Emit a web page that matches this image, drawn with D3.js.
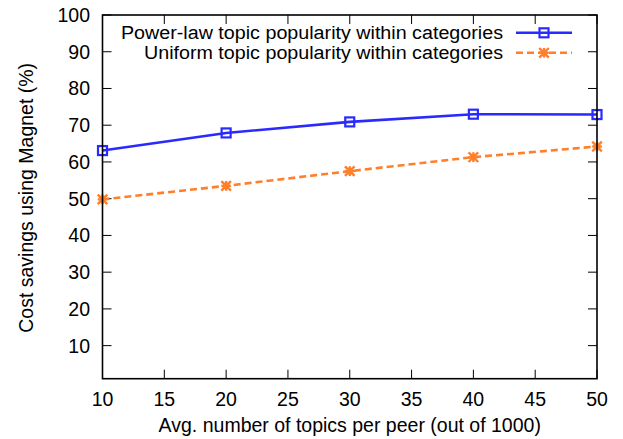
<!DOCTYPE html>
<html><head><meta charset="utf-8">
<script src="https://cdn.jsdelivr.net/npm/d3@7"></script>
<style>body{margin:0;background:#fff;}svg{display:block;font-family:"Liberation Sans",Arial,sans-serif;}</style>
</head><body>
<svg id="c" width="623" height="439"></svg>
<script>
const xValues = [10, 20, 30, 40, 50];
const powerLaw = [63.1, 67.9, 70.9, 73.0, 72.9];
const uniform = [49.8, 53.5, 57.5, 61.3, 64.2];
const seriesNames = ["Power-law topic popularity within categories", "Uniform topic popularity within categories"];
const xTicks = [10, 15, 20, 25, 30, 35, 40, 45, 50];
const yTicks = [10, 20, 30, 40, 50, 60, 70, 80, 90, 100];
const xLabel = "Avg. number of topics per peer (out of 1000)";
const yLabel = "Cost savings using Magnet (%)";

const svg = d3.select("#c");
const m = {l: 102.5, r: 597, t: 15, b: 378.7};
const x = d3.scaleLinear().domain([10, 50]).range([m.l, m.r]);
const y = d3.scaleLinear().domain([1, 100]).range([m.b, m.t]);
const tl = 9;
const fs = 19.5;
const blue = "#2a2aff", orange = "#ff7f2a";

const g = svg.append("g");
g.selectAll(".yt").data(yTicks).join("g").each(function(d){
  const s = d3.select(this);
  s.append("line").attr("x1", m.l).attr("x2", m.l + tl).attr("y1", y(d)).attr("y2", y(d)).attr("stroke", "#000");
  s.append("line").attr("x1", m.r).attr("x2", m.r - tl).attr("y1", y(d)).attr("y2", y(d)).attr("stroke", "#000");
  s.append("text").attr("x", 90).attr("y", y(d)).attr("dy", "0.36em").attr("text-anchor", "end")
    .attr("font-size", fs).text(d);
});
g.selectAll(".xt").data(xTicks).join("g").each(function(d){
  const s = d3.select(this);
  s.append("line").attr("x1", x(d)).attr("x2", x(d)).attr("y1", m.b).attr("y2", m.b - tl).attr("stroke", "#000");
  s.append("line").attr("x1", x(d)).attr("x2", x(d)).attr("y1", m.t).attr("y2", m.t + tl).attr("stroke", "#000");
  s.append("text").attr("x", x(d)).attr("y", 406).attr("text-anchor", "middle")
    .attr("font-size", fs).text(d);
});

svg.append("text").attr("x", (m.l + m.r) / 2).attr("y", 432).attr("text-anchor", "middle")
  .attr("font-size", fs).text(xLabel);
svg.append("text").attr("transform", `translate(33,${(m.t + m.b) / 2 + 1}) rotate(-90)`)
  .attr("text-anchor", "middle").attr("font-size", fs).text(yLabel);

const line = d3.line().x((d, i) => x(xValues[i])).y(d => y(d));
const plot = svg.append("g");
plot.append("path").datum(uniform).attr("d", line).attr("fill", "none").attr("stroke", orange)
  .attr("stroke-width", 2.6).attr("stroke-dasharray", "7,4");
plot.append("path").datum(powerLaw).attr("d", line).attr("fill", "none").attr("stroke", blue)
  .attr("stroke-width", 2.6);

function square(sel, cx, cy) {
  sel.append("rect").attr("x", cx - 4.5).attr("y", cy - 4.5).attr("width", 9).attr("height", 9)
    .attr("fill", "none").attr("stroke", blue).attr("stroke-width", 2.2);
}
function star(sel, cx, cy) {
  const r = 4.8;
  const p = `M${cx-r},${cy}L${cx+r},${cy}M${cx},${cy-r}L${cx},${cy+r}M${cx-r},${cy-r}L${cx+r},${cy+r}M${cx-r},${cy+r}L${cx+r},${cy-r}`;
  sel.append("path").attr("d", p).attr("stroke", orange).attr("stroke-width", 2.4).attr("fill", "none");
}
uniform.forEach((v, i) => star(plot, x(xValues[i]), y(v)));
powerLaw.forEach((v, i) => square(plot, x(xValues[i]), y(v)));

const leg = svg.append("g");
const ly = [32.8, 52.8];
seriesNames.forEach((n, i) => {
  leg.append("text").attr("transform", `translate(503,${ly[i]}) scale(1.095,1)`)
    .attr("dy", "0.36em").attr("text-anchor", "end")
    .attr("font-size", 18).text(n);
});
leg.append("line").attr("x1", 516).attr("x2", 572).attr("y1", ly[0]).attr("y2", ly[0]).attr("stroke", blue).attr("stroke-width", 2.6);
square(leg, 544, ly[0]);
leg.append("line").attr("x1", 516).attr("x2", 572).attr("y1", ly[1]).attr("y2", ly[1]).attr("stroke", orange).attr("stroke-width", 2.6).attr("stroke-dasharray", "7,4");
star(leg, 544, ly[1]);

svg.append("rect").attr("x", m.l).attr("y", m.t).attr("width", m.r - m.l).attr("height", m.b - m.t)
  .attr("fill", "none").attr("stroke", "#000").attr("stroke-width", 1.6);
</script>
</body></html>
